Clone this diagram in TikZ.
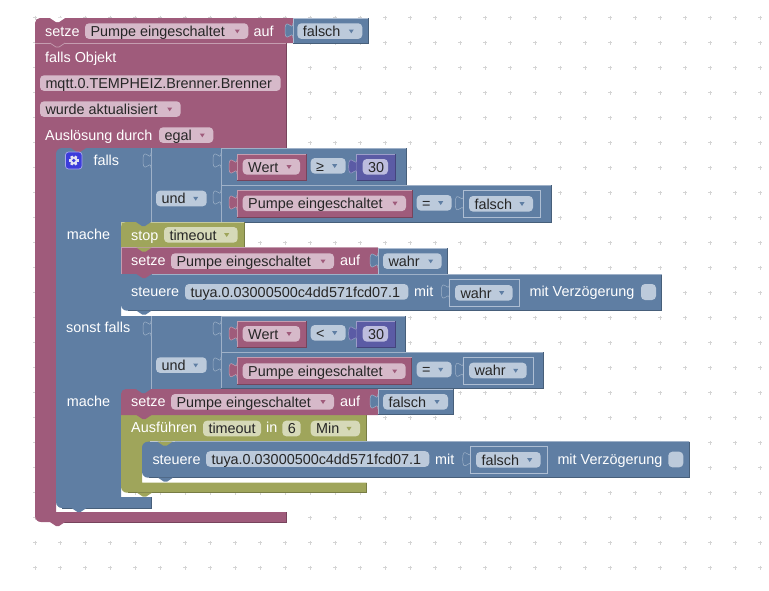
\documentclass[tikz,border=0pt]{standalone}
\usepackage{fontspec}
\setmainfont{Liberation Sans}
\definecolor{blockR}{HTML}{9F5B7B}
\definecolor{blockB}{HTML}{5F7EA3}
\definecolor{blockO}{HTML}{9FA55B}
\definecolor{blockN}{HTML}{5B5BA5}
\definecolor{blockG}{HTML}{3C3CDB}
\definecolor{fieldR}{HTML}{D6B9C9}
\definecolor{fieldB}{HTML}{BCCADB}
\definecolor{fieldO}{HTML}{D6D9B8}
\definecolor{fieldN}{HTML}{BDBDDE}
\tikzset{
	lbl/.style={anchor=base west,inner sep=0pt,text=white,font=\fontsize{14.4}{16}\selectfont},
	val/.style={anchor=base west,inner sep=0pt,text=black!85,font=\fontsize{14.4}{16}\selectfont},
}
\begin{document}
\begin{tikzpicture}[x=1pt,y=-1pt]
	\useasboundingbox (0,0) rectangle (769,590);
	% block: colour, x1, y1, x2, y2
	\def\blk#1#2#3#4#5{
		\fill[#1] (#2,#3) rectangle (#4,#5);
		\draw[#1!60!white,line width=.7pt] (#2,#5) -- (#2,#3) -- (#4,#3);
		\draw[#1!75!black,line width=.7pt] (#4,#3) -- (#4,#5) -- (#2,#5);
	}
	% value block with the pale frame: x1, y1, x2, y2
	\def\frm#1#2#3#4{
		\fill[blockB] (#1,#2) rectangle (#3,#4);
		\draw[fieldB!85!blockB,line width=.7pt] (#1,#2) rectangle (#3,#4);
	}
	% tab: colour, x, y
	\def\tabb#1#2#3{
		\filldraw[fill=#1,draw=#1!60!white,line width=.5pt] (#2,#3) .. controls (#2,#3+10) and (#2-8,#3-8) .. (#2-8,#3+7.5)
			.. controls (#2-8,#3+23) and (#2,#3+5) .. (#2,#3+15);
	}
	% notch: colour, x, y
	\def\ntc#1#2#3{
		\fill[#1] (#2,#3) -- (#2+6,#3+4) -- (#2+9,#3+4) -- (#2+15,#3) -- cycle;
	}
	% plain label: name, x, baseline, text
	\def\lab#1#2#3#4{\node[lbl] (#1) at (#2,#3) {#4};}
	% field: colour, name, x1, x2, y, text
	\def\fld#1#2#3#4#5#6{
		\fill[#1,rounded corners=4pt] (#3,#5) rectangle (#4,#5+15.6);
		\node[val] (#2) at (#3+5.3,#5+13) {#6};
	}
	% dropdown field: colour, arrow colour, name, x1, x2, y, text
	\def\ddn#1#2#3#4#5#6#7{
		\fld{#1}{#3}{#4}{#5}{#6}{#7}
		\fill[#2] (#5-13.5,#6+6.2) -- (#5-8.5,#6+6.2) -- (#5-11,#6+10) -- cycle;
	}
	% grid
	\foreach \i in {0,...,29}
		\foreach \j in {0,...,22}
			\draw[black!17,line width=.6pt] (35+25*\i-2,17.5+25*\j) -- +(4,0) (35+25*\i,17.5+25*\j-2) -- +(0,4);

	% outer block
	\fill[blockR] (56,148) rectangle (64,156);
	\fill[blockR,rounded corners=6pt] (35,70) -- (35,522) -- (90,522) [sharp corners] -- (286,522) -- (286,512) -- (56,512) -- (56,148) -- (286,148) -- (286,43) -- (35,43) -- cycle;
	\draw[blockR!75!black,line width=.7pt] (286,43) -- (286,148) (286,512) -- (286,522) -- (60,522);
	\fill[blockR,rounded corners=5pt] (35,43) -- (35,18) -- (60,18) [sharp corners] -- (293,18) -- (293,43) -- cycle;
	\fill[white] (50,17.5) -- (50,18) -- (56,22) -- (59,22) -- (65,18) -- (65,17.5) -- cycle;
	\draw[blockR!60!white,line width=.7pt] (35,43) -- (50,43) (65,43) -- (286,43);
	\draw[blockR!60!white,line width=.7pt] (50,43) -- (56,47) -- (59,47) -- (65,43);
	\frm{293}{18.3}{368}{43.3}
	\draw[blockB!75!black,line width=.7pt] (368,18.3) -- (368,43.3) -- (293,43.3);
	\tabb{blockB}{293}{23}
	\lab{setzeA}{45}{36}{setze}
	\ddn{fieldR}{blockR}{pumpeA}{85}{248.3}{23.3}{Pumpe eingeschaltet}
	\lab{aufA}{253.3}{36}{auf}
	\ddn{fieldB}{blockB}{falschA}{297.3}{362.3}{23.3}{falsch}
	\lab{objekt}{45}{62}{falls Objekt}
	\fld{fieldR}{mqtt}{40}{280.7}{75.3}{mqtt.0.TEMPHEIZ.Brenner.Brenner}
	\ddn{fieldR}{blockR}{wurde}{40}{180.7}{101.3}{wurde aktualisiert}
	\lab{ausl}{45}{140}{Auslösung durch}
	\ddn{fieldR}{blockR}{egal}{159}{213.3}{127.3}{egal}
	\ntc{blockR}{50}{522}

	% falls block
	\fill[blockB] (121,222) rectangle (129,230);
	\fill[blockB] (121,389) rectangle (129,397);
	\fill[blockB,rounded corners=6pt] (56,170) -- (56,508) -- (100,508) [sharp corners] -- (151,508) -- (151,497) -- (121,497) -- (121,389) -- (151,389) -- (151,316) -- (121,316) -- (121,222) -- (151,222) -- (151,148) -- (110,148) [rounded corners=6pt] -- (56,148) -- cycle;
	\draw[blockB!75!black,line width=.7pt] (151,497) -- (151,508) -- (62,508);
	\ntc{blockB}{71.5}{508}
	\ntc{blockR}{71}{148}
	\fill[blockB] (151,148) rectangle (221,222);
	\fill[blockB] (151,316) rectangle (221,389);
	\filldraw[fill=blockG,draw=white!55!blockG,line width=.7pt,rounded corners=3pt] (65.5,152) rectangle (82,169);
	\fill[fieldN!40!white] (73.8,160.5) circle (3.8);
	\foreach \a in {0,60,...,300}
		\fill[fieldN!40!white] (73.8,160.5) ++(\a:-2) ++(\a+90:1.3) -- ++(\a+90:-2.6) -- ++(\a:7) -- ++(\a+90:2.6) -- cycle;
	\fill[blockG] (73.8,160.5) circle (1.9);
	\lab{fallsA}{93.3}{165.7}{falls}
	\lab{macheA}{66.7}{239}{mache}
	\lab{sonst}{66}{332.7}{sonst falls}
	\lab{macheB}{66.7}{406}{mache}

	% und row one
	\draw[blockB!60!white,line width=.7pt] (151,148) -- (151,222) (221,148) -- (221,222);
	\tabb{blockB}{151}{153}
	\blk{blockB}{221}{148}{406}{185}
	\blk{blockB}{221}{185}{551}{222}
	\tabb{blockB}{221}{153}
	\tabb{blockB}{221}{190}
	\ddn{fieldB}{blockB}{undA}{156}{206.7}{190.7}{und}
	\blk{blockR}{237}{154}{306.7}{180}
	\tabb{blockR}{237}{159}
	\ddn{fieldR}{blockR}{wertA}{242.7}{300}{159}{Wert}
	\ddn{fieldB}{blockB}{geq}{310.7}{345.7}{158}{≥}
	\blk{blockN}{356.7}{154}{395}{180}
	\tabb{blockN}{356.7}{159}
	\fld{fieldN}{numA}{362.7}{388}{159}{30}
	\blk{blockR}{237}{190}{412.3}{217.7}
	\tabb{blockR}{237}{195}
	\ddn{fieldR}{blockR}{pumpeB}{242.7}{406}{195.5}{Pumpe eingeschaltet}
	\ddn{fieldB}{blockB}{eqA}{416.7}{451.7}{195}{=}
	\tabb{blockB}{463.3}{195.7}
	\frm{463.3}{190.7}{540.7}{217.3}
	\ddn{fieldB}{blockB}{falschB}{469}{533}{196}{falsch}

	% first statement
	\blk{blockO}{121}{222}{244}{247.7}
	\fill[blockO,rounded corners=5pt] (121,247.7) -- (121,222) -- (140,222) [sharp corners] -- (150,222) -- (150,247.7) -- cycle;
	\ntc{blockB}{136}{222}
	\lab{stop}{131}{240}{stop}
	\ddn{fieldO}{blockO}{timeoutA}{164}{237.7}{227}{timeout}
	\blk{blockR}{121}{247.7}{378}{274}
	\ntc{blockO}{136.5}{247.7}
	\frm{378}{248.3}{447.7}{274}
	\draw[blockB!75!black,line width=.7pt] (447.7,248.3) -- (447.7,274) -- (378,274);
	\tabb{blockB}{378}{253}
	\lab{setzeB}{131}{265.7}{setze}
	\ddn{fieldR}{blockR}{pumpeC}{171}{334}{253.3}{Pumpe eingeschaltet}
	\lab{aufB}{340}{265.7}{auf}
	\ddn{fieldB}{blockB}{wahrA}{383}{441.7}{253.3}{wahr}
	\fill[blockB,rounded corners=6pt] (121,290) -- (121,310.7) -- (150,310.7) [sharp corners] -- (661.7,310.7) -- (661.7,274) -- (121,274) -- cycle;
	\draw[blockB!75!black,line width=.7pt] (661.7,274) -- (661.7,310.7) -- (128,310.7);
	\draw[blockB!60!white,line width=.7pt] (152,274) -- (661.7,274);
	\ntc{blockR}{136.5}{274}
	\ntc{blockB}{136.5}{310.7}
	\lab{steuereA}{131}{296.7}{steuere}
	\fld{fieldB}{tuyaA}{185}{408.3}{284}{tuya.0.03000500c4dd571fcd07.1}
	\lab{mitA}{414}{296.7}{mit}
	\tabb{blockB}{449.3}{284}
	\frm{449.3}{279.3}{519.3}{306}
	\ddn{fieldB}{blockB}{wahrB}{455}{512.7}{285}{wahr}
	\lab{verzA}{529.3}{296.7}{mit Verzögerung}
	\fill[fieldB,rounded corners=4pt] (641,284) rectangle (656,300);

	% und row two
	\draw[blockB!60!white,line width=.7pt] (151,316) -- (151,389) (221,316) -- (221,389);
	\tabb{blockB}{151}{321}
	\blk{blockB}{221}{316}{405.7}{352}
	\blk{blockB}{221}{352}{543.3}{388.7}
	\tabb{blockB}{221}{321}
	\tabb{blockB}{221}{357}
	\ddn{fieldB}{blockB}{undB}{156}{206.7}{357.3}{und}
	\blk{blockR}{237}{321}{306.7}{347.3}
	\tabb{blockR}{237}{326}
	\ddn{fieldR}{blockR}{wertB}{242.7}{300}{326}{Wert}
	\ddn{fieldB}{blockB}{lessA}{310.7}{345.7}{325}{<}
	\blk{blockN}{356.7}{321}{395}{347.3}
	\tabb{blockN}{356.7}{326}
	\fld{fieldN}{numB}{362.7}{388}{326}{30}
	\blk{blockR}{237}{357.7}{411.7}{384}
	\tabb{blockR}{237}{362.7}
	\ddn{fieldR}{blockR}{pumpeD}{242.7}{405.7}{363.3}{Pumpe eingeschaltet}
	\ddn{fieldB}{blockB}{eqB}{416.7}{451.7}{361.7}{=}
	\tabb{blockB}{463.3}{362.3}
	\frm{463.3}{357.3}{533.3}{384}
	\ddn{fieldB}{blockB}{wahrC}{469}{526.7}{362.7}{wahr}

	% second statement
	\fill[blockO,rounded corners=6pt] (121,470) -- (121,492.7) -- (140,492.7) [sharp corners] -- (366.7,492.7) -- (366.7,482.7) -- (142,482.7) -- (142,441) -- (366.7,441) -- (366.7,415) -- (121,415) -- cycle;
	\fill[blockO] (142,441) rectangle (150,449);
	\draw[blockO!75!black,line width=.7pt] (366.7,415) -- (366.7,441) (366.7,482.7) -- (366.7,492.7) -- (128,492.7);
	\ntc{blockO}{137}{492.7}
	\fill[blockR,rounded corners=5pt] (121,415) -- (121,389) -- (140,389) [sharp corners] -- (378,389) -- (378,415) -- cycle;
	\ntc{blockB}{136}{389}
	\ntc{blockR}{136.5}{415}
	\frm{378}{389.3}{453.3}{414.7}
	\draw[blockB!75!black,line width=.7pt] (453.3,389.3) -- (453.3,414.7) -- (378,414.7);
	\tabb{blockB}{378}{394}
	\lab{setzeC}{131}{406.7}{setze}
	\ddn{fieldR}{blockR}{pumpeE}{171}{334}{394}{Pumpe eingeschaltet}
	\lab{aufC}{340}{406.7}{auf}
	\ddn{fieldB}{blockB}{falschC}{383}{448}{394}{falsch}
	\lab{ausf}{131}{432.7}{Ausführen}
	\fld{fieldO}{timeoutB}{203}{261}{420.7}{timeout}
	\lab{inA}{266}{432.7}{in}
	\fld{fieldO}{sechs}{282.3}{300.7}{420.7}{6}
	\ddn{fieldO}{blockO}{minA}{310.7}{360}{420.7}{Min}
	\fill[blockB,rounded corners=6pt] (142,455) -- (142,477.7) -- (170,477.7) [sharp corners] -- (689.3,477.7) -- (689.3,441.7) -- (170,441.7) [rounded corners=6pt] -- (142,441.7) -- cycle;
	\draw[blockB!75!black,line width=.7pt] (689.3,441.7) -- (689.3,477.7) -- (149,477.7);
	\draw[blockB!60!white,line width=.7pt] (175,441.7) -- (689.3,441.7);
	\ntc{blockO}{157.5}{441.7}
	\ntc{blockB}{158}{477.7}
	\lab{steuereB}{152.3}{464}{steuere}
	\fld{fieldB}{tuyaB}{206}{429.3}{451.2}{tuya.0.03000500c4dd571fcd07.1}
	\lab{mitB}{435}{464}{mit}
	\tabb{blockB}{470.7}{451.7}
	\frm{470.7}{446.7}{547.3}{473.3}
	\ddn{fieldB}{blockB}{falschD}{476}{540.7}{452}{falsch}
	\lab{verzB}{557.3}{464}{mit Verzögerung}
	\fill[fieldB,rounded corners=4pt] (668.3,451.7) rectangle (683.3,467.3);
\end{tikzpicture}
\end{document}
